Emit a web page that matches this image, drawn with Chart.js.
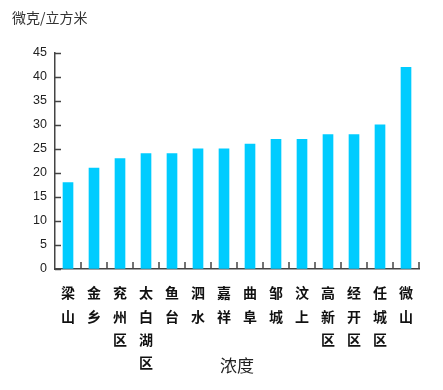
<!DOCTYPE html>
<html>
<head>
<meta charset="utf-8">
<script src="https://cdn.jsdelivr.net/npm/chart.js@4/dist/chart.umd.min.js"></script>
<style>
html,body{margin:0;padding:0;background:#fff;}
#wrap{width:443px;height:390px;}
</style>
</head>
<body>
<div id="wrap"><canvas id="c" width="443" height="390"></canvas></div>
<script>
const categories = ['梁山','金乡','兖州区','太白湖区','鱼台','泗水','嘉祥','曲阜','邹城','汶上','高新区','经开区','任城区','微山'];
const values = [18, 21, 23, 24, 24, 25, 25, 26, 27, 27, 28, 28, 30, 42];
const yTicks = [0, 5, 10, 15, 20, 25, 30, 35, 40, 45];
const unitLabel = '微克/立方米';
const xTitle = '浓度';

const innerTicks = {
  id: 'innerTicks',
  afterDraw(chart) {
    const ctx = chart.ctx;
    const ys = chart.scales.y, xs = chart.scales.x;
    const area = chart.chartArea;
    ctx.save();
    ctx.strokeStyle = '#444';
    ctx.lineWidth = 1.5;
    yTicks.forEach(v => {
      const py = Math.round(ys.getPixelForValue(v)) + 0.5;
      ctx.beginPath();
      ctx.moveTo(area.left, py);
      ctx.lineTo(area.left + 6, py);
      ctx.stroke();
    });
    const n = categories.length;
    const step = xs.getPixelForValue(1) - xs.getPixelForValue(0);
    for (let i = 0; i < n; i++) {
      const x = xs.getPixelForValue(i) + step / 2;
      ctx.beginPath();
      ctx.moveTo(x, area.bottom);
      ctx.lineTo(x, area.bottom - 7);
      ctx.stroke();
    }
    ctx.restore();
  }
};

new Chart(document.getElementById('c'), {
  type: 'bar',
  data: {
    labels: categories.map(s => s.split('')),
    datasets: [{
      data: values,
      backgroundColor: '#00CCFF',
      borderWidth: 0,
      barThickness: 10
    }]
  },
  options: {
    responsive: false,
    animation: false,
    devicePixelRatio: 1,
    layout: { padding: { left: 12, right: 24, top: 0, bottom: 0 } },
    plugins: {
      legend: { display: false },
      tooltip: { enabled: false },
      title: {
        display: true,
        text: unitLabel,
        align: 'start',
        color: '#333',
        font: { family: '"Noto Sans CJK SC", sans-serif', size: 14, weight: 'normal', lineHeight: 1.2 },
        padding: { top: 9, bottom: 27 }
      }
    },
    scales: {
      y: {
        min: 0, max: 45,
        afterFit(s) { s.width = 43; },
        afterBuildTicks(s) { s.ticks = yTicks.map(v => ({ value: v })); },
        grid: { display: true, drawOnChartArea: false, drawTicks: false },
        border: { display: true, color: '#444', width: 1.5 },
        ticks: {
          padding: 8,
          color: '#222',
          font: { family: '"Liberation Sans Narrow", "Liberation Sans", sans-serif', size: 12.5 }
        }
      },
      x: {
        afterFit(s) { s.height = 121; },
        grid: { display: true, drawOnChartArea: false, drawTicks: false },
        border: { display: true, color: '#444', width: 1.5 },
        ticks: {
          padding: 12.5,
          color: '#111',
          autoSkip: false,
          maxRotation: 0,
          font: { family: '"Noto Sans CJK SC", sans-serif', size: 14, weight: 'bold', lineHeight: '23.3px' }
        },
        title: {
          display: true,
          text: xTitle,
          color: '#222',
          font: { family: '"Noto Sans CJK SC", sans-serif', size: 17, weight: 'normal', lineHeight: 1.2 },
          padding: { top: 0, bottom: 13.8 }
        }
      }
    }
  },
  plugins: [innerTicks]
});
</script>
</body>
</html>
